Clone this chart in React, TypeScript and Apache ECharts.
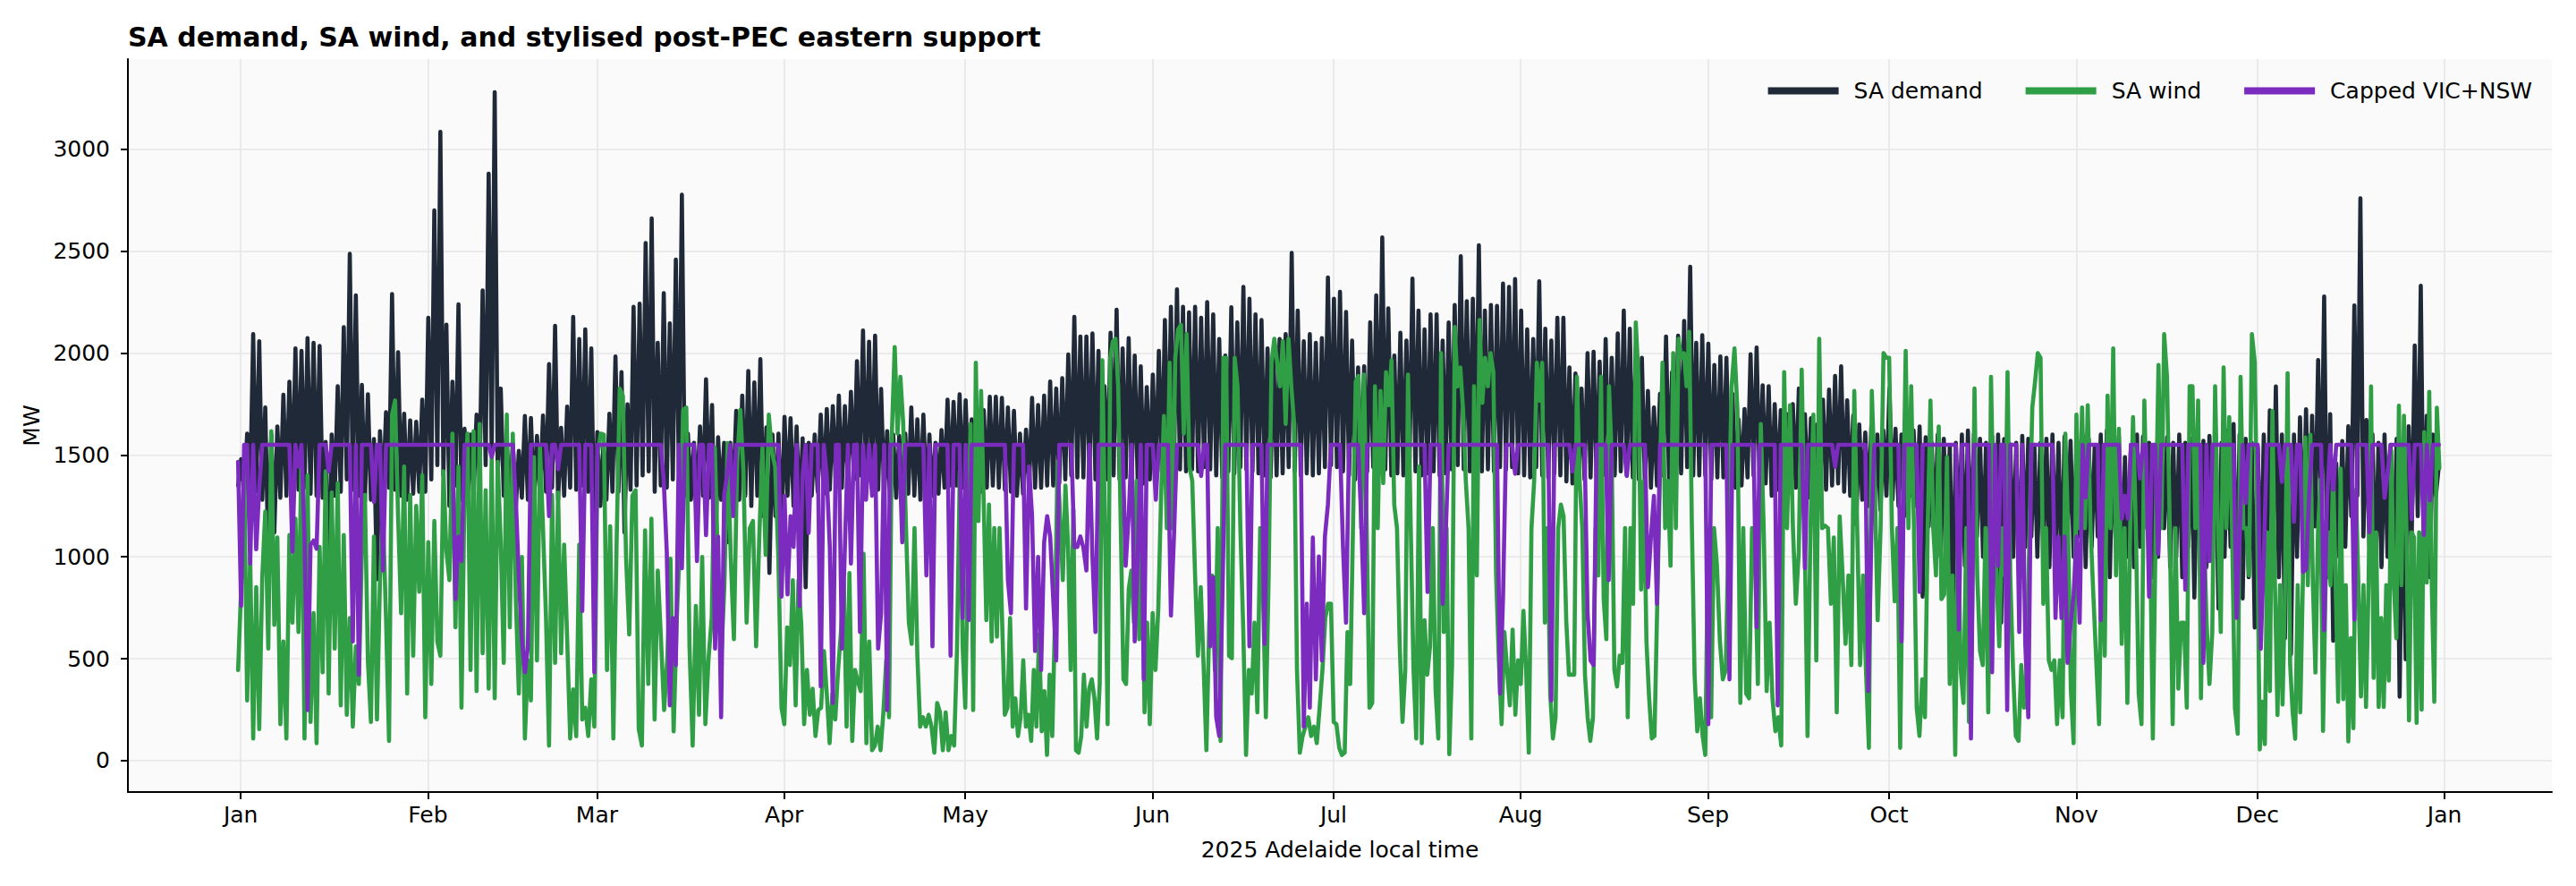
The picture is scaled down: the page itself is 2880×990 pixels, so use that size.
import React, { useRef, useEffect } from 'react'
import * as echarts from 'echarts'

// Day-of-year positions of the month ticks (2025), last one is 1 Jan 2026
const MONTH_TICKS = [0, 31, 59, 90, 120, 151, 181, 212, 243, 273, 304, 334, 365]
const MONTH_LABELS = ['Jan', 'Feb', 'Mar', 'Apr', 'May', 'Jun', 'Jul', 'Aug', 'Sep', 'Oct', 'Nov', 'Dec', 'Jan']
const MONTH_DAYS = [31, 28, 31, 30, 31, 30, 31, 31, 30, 31, 30, 31]
const MW_TICKS = [0, 500, 1000, 1500, 2000, 2500, 3000]

// SA demand, MW: per day a night low then an evening high
const demandJan = [1350,1480, 1300,1605, 1330,2093, 1320,2058, 1280,1733, 990,1600, 1120,1640, 1290,1796, 1300,1860, 1340,2023, 1330,2011, 1340,2074, 1310,2051, 1300,2035, 1290,1564, 800,1600, 1300,1837, 1320,2127, 1380,2487, 1330,2283, 1300,1844, 1270,1798, 1280,1578, 890,1617, 1300,1710, 1340,2290, 1330,2004, 1300,1703, 1280,1670, 1310,1663, 1320,1772]
const demandFeb = [1320,2174, 1380,2700, 1450,3086, 1400,2139, 1250,1860, 1350,2239, 1280,1629, 1260,1600, 1300,1698, 1380,2308, 1450,2881, 1500,3280, 1400,1826, 1300,1560, 1280,1560, 1240,1520, 1290,1691, 1280,1682, 1270,1594, 1300,1694, 1320,1946, 1340,2134, 1280,1633, 1300,1738, 1340,2178, 1330,2069, 1350,2116, 1320,2023]
const demandMar = [1070,1612, 1250,1540, 1280,1703, 1320,1984, 1320,1907, 1120,1749, 1330,2227, 1350,2243, 1400,2540, 1420,2661, 1320,2051, 1350,2294, 1340,2146, 1380,2459, 1420,2777, 1300,1605, 1280,1560, 1290,1640, 1300,1872, 1290,1745, 930,1587, 1280,1560, 1072,1560, 1300,1717, 1280,1791, 1300,1912, 1250,1856, 1300,1970, 1200,1636, 921,1600, 1200,1605]
const demandApr = [1118,1687, 1300,1680, 1250,1640, 1200,1582, 851,1560, 1300,1600, 1320,1698, 1310,1726, 1330,1740, 1350,1791, 1340,1740, 1360,1810, 1380,1960, 1400,2111, 1380,2056, 1390,2086, 1330,1824, 1300,1617, 1270,1600, 1290,1594, 1280,1605, 1310,1733, 1300,1675, 1280,1698, 1290,1600, 1300,1560, 1310,1622, 1340,1772, 1350,1761, 1350,1798]
const demandMay = [1340,1768, 1320,1675, 1300,1620, 1320,1720, 1340,1786, 1350,1786, 1340,1780, 1330,1733, 1320,1717, 1300,1605, 1310,1624, 1330,1780, 1340,1745, 1340,1791, 1350,1861, 1350,1826, 1360,1877, 1380,1993, 1400,2178, 1390,2081, 1390,2081, 1400,2097, 1380,2011, 1360,1837, 1380,2100, 1400,2213, 1380,2023, 1390,2074, 1380,1988, 1370,1935, 1360,1833]
const demandJun = [1380,1895, 1400,2011, 1420,2162, 1430,2227, 1440,2313, 1430,2227, 1420,2200, 1430,2227, 1420,2174, 1440,2250, 1430,2190, 1400,2069, 1390,1988, 1420,2225, 1410,2151, 1440,2325, 1430,2267, 1420,2190, 1410,2162, 1400,2023, 1390,1980, 1400,2069, 1410,2093, 1440,2492, 1420,2209, 1400,2058, 1410,2093, 1400,2051, 1410,2074, 1440,2371]
const demandJul = [1450,2267, 1440,2301, 1420,2202, 1400,2062, 1380,1930, 1390,1935, 1420,2151, 1440,2283, 1460,2568, 1430,2220, 1400,1988, 1410,2100, 1400,2062, 1440,2366, 1420,2209, 1400,2116, 1410,2190, 1420,2190, 1400,2062, 1410,2150, 1430,2236, 1450,2475, 1430,2255, 1420,2267, 1450,2529, 1420,2209, 1430,2236, 1420,2232, 1440,2341, 1430,2325, 1440,2364]
const demandAug = [1410,2209, 1400,2116, 1390,2069, 1440,2352, 1400,2120, 1390,2062, 1410,2174, 1400,2174, 1370,1930, 1360,1900, 1340,1826, 1380,2000, 1390,2007, 1380,1958, 1400,2069, 1380,1977, 1400,2097, 1420,2209, 1400,2120, 1390,2023, 1380,1977, 1360,1814, 1340,1733, 1350,1800, 1400,2081, 1380,1907, 1400,2086, 1410,2158, 1440,2424, 1400,2051, 1400,2088]
const demandSep = [1400,2046, 1380,1942, 1390,1984, 1390,1977, 1360,1800, 1340,1675, 1350,1726, 1390,1995, 1400,2028, 1360,1842, 1360,1837, 1300,1750, 1330,1720, 1300,1700, 1320,1750, 1340,1826, 1300,1700, 1290,1680, 1280,1650, 1320,1772, 1330,1821, 1350,1888, 1360,1935, 1320,1768, 1300,1694, 1160,1650, 1280,1610, 1250,1640, 1240,1600, 1230,1620]
const demandOct = [1300,1826, 1280,1629, 1250,1600, 1200,1560, 1300,1620, 1250,1640, 805,1587, 1150,1560, 1100,1600, 1000,1580, 1050,1550, 735,1560, 1100,1600, 956,1620, 1050,1605, 1100,1580, 1000,1560, 900,1594, 1050,1600, 677,1578, 1100,1552, 1000,1560, 886,1594, 1050,1580, 1100,1550, 1000,1560, 1050,1580, 950,1600, 1000,1560, 900,1590, 1100,1570]
const demandNov = [1000,1560, 1100,1600, 950,1580, 1050,1550, 1100,1600, 1000,1620, 900,1560, 1050,1590, 654,1490, 1000,1550, 950,1600, 1050,1590, 1234,1560, 900,1550, 1000,1580, 1141,1587, 950,1560, 1000,1600, 900,1560, 1050,1580, 800,1550, 1000,1570, 950,1594, 1100,1600, 747,1560, 1000,1620, 1050,1652, 805,1600, 796,1580, 900,1560]
const demandDec = [653,1537, 900,1600, 950,1719, 1000,1836, 900,1600, 601,1550, 523,1600, 1000,1685, 1100,1724, 1050,1693, 1150,1966, 1200,2278, 900,1700, 588,1459, 1000,1568, 1050,1641, 1200,2234, 1300,2760, 1100,1672, 1050,1602, 900,1560, 950,1600, 1000,1550, 900,1580, 314,1500, 497,1641, 1100,2037, 1200,2331, 1000,1693, 900,1600, 1300,1450]

// SA wind, MW (turning points, about two per day)
const windJan = [445,840,1443,295,1000,109,852,155,898,1223, 550,1617,666,1095,179,585,109,1107,677,1188, 631,1513,109,1400,190,724,86,1049,434,1420, 329,1316,550,1362,271,1107,225,700,167,561, 376,1025,1304,492,190,1100,202,886,1200,700, 97,1698,1768,1200,724,1443,329,1304,515,1250, 829,1400]
const windFeb = [213,1072,376,1176,585,515,1420,1030,886,1605, 654,1443,260,1327,1605,445,1617,341,1652,527, 1327,353,1490,306,1466,1072,480,1698,654,1605, 793,329,1000,109,492,295,1490,492,1536,1141, 700,74,1304,480,1316,527,1060,600,109,350, 120,1060,202,260,121,399]
const windMar = [167,1490,1605,1600,445,1150,109,1049,1826,1791, 1000,619,1300,1327,155,74,1130,376,1188,202, 933,600,248,500,991,144,700,1080,1721,1733, 561,74,759,225,1000,179,500,700,1536,933, 492,863,1559,1000,596,1455,1721,1420,677,1141, 1176,561,1100,1536,1010,1698,1513,1443,1000]
const windApr = [260,179,654,469,886,271,886,666,179,445, 225,353,121,248,260,538,329,86,329,202, 445,631,886,167,921,97,445,387,341,1015, 86,585,51,74,167,51,237,492,213,1605, 2030,1605,1884,1656,1141,677,573,1141,515,167, 213,167,225,167,39,283,237,51,237,51, 121,74,538,1420]
const windMay = [561,260,1025,1652,248,1953,1176,1814,1269,689, 1257,585,1141,608,1141,677,225,260,700,167, 306,121,213,492,167,225,97,445,167,619, 144,341,28,422,121,677,1466,1188,886,1350, 1049,445,1234,51,39,121,422,167,353,399, 306,109,376,1965,1141,179,1977,2058,2070,1837, 1141,399,376,840,933,677,1373,596,1141,237, 677]
const windJun = [179,724,445,747,1304,1691,1141,1953,1141,1977, 2116,2139,1605,2093,1443,1373,909,515,851,469, 51,677,909,445,1141,97,1977,1977,515,503, 1977,1837,1141,654,28,445,329,677,237,1141, 816,213,909,1953,2070,1953,1837,2058,1652,2070, 1837,1652,445,39,121,167,213,121,167,86, 260,445,700,770]
const windJul = [770,190,179,63,28,39,631,376,1141,1860, 1888,1141,1895,1141,260,283,1837,1141,1814,1362, 1907,1744,1965,1257,1141,561,190,445,1895,1141, 445,109,1443,86,689,422,561,1141,353,109, 2000,631,1141,32,469,2128,1837,1930,1721,1373, 1141,109,1837,909,2162,1756,1977,1837,2000,1907, 909,492,179,631,445,271,643,225]
const windAug = [492,376,735,445,39,1141,1373,1953,1767,1953, 677,1141,329,109,213,1141,1257,1199,689,422, 422,422,1884,1373,1141,422,213,97,213,1141, 909,1884,793,596,1837,1490,445,364,515,480, 1141,213,1141,770,2151,1884,840,1373,585,306, 109,121,747,1373,1953,1141,1373,956,2000,1141, 2070,1977,2000,1837,2104,1141,422,144,306,121]
const windSep = [28,1141,213,1141,956,585,399,445,1141,1837, 2023,1721,283,1141,329,306,1141,1025,376,1652, 1141,341,677,306,144,213,74,1907,1141,1744, 1141,770,1025,1919,1141,121,1141,1698,492,2070, 1141,1153,1141,770,1095,237,1199,909,573,909, 469,1814,1141,469,909,445,63,1814,1373,689, 1141,2000]
const windOct = [1977,1977,1141,782,1141,63,1141,2011,1141,1837, 1141,260,121,399,213,1141,1767,1141,909,1640, 793,816,1490,376,909,28,1141,445,283,1141, 190,561,1826,909,538,469,1141,237,1884,1141, 909,561,1141,909,1907,909,445,121,97,469, 260,445,1141,1733,1860,2000,1977,770,1141,492, 445,492,179,492,213,1605,1141,353]
const windNov = [86,1698,1141,1733,1141,1744,1141,805,492,179, 1141,515,1791,1141,2023,909,1629,573,1141,283, 1141,1686,1141,329,179,1767,1141,1141,109,1141, 1942,1141,2093,1884,1141,179,1141,353,677,677, 260,1837,1837,1141,1767,306,1141,677,376,631, 1837,1141,631,1930,1141,1686,1141,260,132,1884, 1141,1141,909,2093]
const windDec = [1957,1121,55,289,81,1121,341,1716,861,224, 861,276,861,1901,471,237,107,861,237,861, 1586,861,1599,861,432,1121,1381,146,861,1121, 861,1433,861,289,1433,302,861,94,601,159, 1329,861,315,861,263,861,1836,406,1121,263, 700,263,861,393,1521,861,601,1742,861,1693, 1121,198,1121,1095,185,1121,250,1612,874,1810, 861,289,1732,1435]

// Capped VIC+NSW support, MW: two readings per day, ceiling 1550
const cappedJan = [1466,760, 1550,1550, 967,1550, 1037,1340, 1550,1550, 1550,1550, 1550,1550, 1550,1550, 1550,1550, 1025,1550, 1443,1550, 1100,248, 1060,1080, 1040,1550, 1550,1550, 1420,1550, 1550,1550, 1550,1550, 1550,1550, 585,1550, 422,1550, 1550,1550, 1550,1270, 1550,1550, 933,1550, 1550,1550, 1550,1550, 1550,1550, 1550,1550, 1550,1550, 1550,1550]
const cappedFeb = [1550,1550, 1550,1550, 1550,1550, 1550,1550, 1550,1550, 793,1100, 979,1550, 1550,1550, 1550,1550, 1550,1550, 1550,1550, 1490,1550, 1550,1550, 1550,1550, 1550,1550, 1280,900, 600,434, 561,1550, 1550,1550, 1550,1550, 1550,1200, 1550,1550, 1430,1550, 1550,1550, 1550,1550, 1550,1550, 735,1550, 1550,1550]
const cappedMar = [434,1550, 1550,1550, 1550,1550, 1550,1550, 1550,1550, 1550,1550, 1550,1550, 1550,1550, 1550,1550, 1550,1550, 1550,1550, 1550,1373, 1025,271, 700,469, 1550,944, 1550,1550, 1550,1550, 979,1550, 1550,1107, 1550,1550, 550,1100, 213,1300, 1408,1550, 1200,1550, 1550,1550, 1550,1550, 1550,1550, 1550,1550, 1550,1550, 1550,1550, 1550,1550]
const cappedApr = [805,1300, 816,1200, 1049,1550, 759,1400, 1550,1118, 1550,1550, 1550,364, 1550,1397, 1049,283, 1550,1550, 550,1049, 1550,967, 1550,1550, 631,1550, 1280,1550, 1300,1550, 550,724, 1550,248, 1550,1550, 1550,1550, 1072,1550, 1550,1550, 1550,1550, 1550,1550, 909,1550, 561,1550, 1550,1550, 1550,1550, 515,1550, 1550,1550]
const cappedMay = [700,1550, 689,1550, 1550,1550, 1550,1550, 1550,1550, 1550,1550, 1550,1550, 1550,886, 724,1550, 1550,1550, 1550,747, 1443,1200, 538,1000, 445,1072, 1200,1100, 793,492, 1550,1550, 1550,1550, 1550,1049, 1049,1100, 1045,933, 1550,1000, 631,1550, 1550,1550, 1550,1550, 1550,1550, 1550,1550, 956,1200, 1550,585, 1000,1550, 399,1550]
const cappedJun = [1550,1550, 1280,1550, 1550,1550, 1550,712, 1100,1550, 1550,1550, 1550,1550, 1550,1550, 1550,1397, 1550,1550, 561,900, 213,121, 770,1550, 1550,1550, 1550,1550, 1550,1550, 1550,561, 1550,1550, 1550,1550, 573,1550, 1550,1550, 1550,1550, 1550,1550, 1550,1550, 1550,1550, 1550,167, 770,260, 1095,399, 1002,492, 1100,1257]
const cappedJul = [1550,1550, 1550,1550, 1049,677, 1550,1550, 1550,1550, 1200,724, 1550,1550, 1550,1550, 1550,1550, 1550,1550, 1550,1550, 1550,1550, 1550,1550, 1550,1550, 1550,1550, 1550,1550, 828,1550, 1550,1550, 1550,770, 1100,1550, 1550,1550, 1550,1550, 1550,1550, 1550,1550, 1550,1550, 1550,1550, 1550,1550, 1550,1550, 329,800, 1550,1550, 1550,1408]
const cappedAug = [1550,1550, 1550,1550, 1550,1550, 1550,1550, 1550,1550, 1550,295, 1550,1550, 1550,1550, 1550,1550, 1420,1550, 1550,1550, 1550,724, 492,469, 1550,1550, 1550,1550, 886,1550, 1550,1550, 1550,1550, 1397,1550, 1550,1550, 1550,1550, 1550,851, 1100,1300, 770,1550, 1550,1550, 1550,1550, 1550,1550, 1550,1550, 1550,1550, 1550,1550, 1550,1550]
const cappedSep = [1550,179, 1550,1550, 1550,1550, 1550,1550, 399,1550, 1550,1550, 1550,1550, 1550,1550, 1550,654, 1550,1550, 1550,1550, 1550,1550, 271,1550, 1550,1550, 1550,1550, 1550,1550, 1550,944, 1550,1550, 1550,1550, 1550,1550, 1550,1550, 1550,1443, 1550,1550, 1550,1550, 1550,1550, 1550,1550, 1550,1550, 341,1107, 1550,1550, 1550,1550]
const cappedOct = [1550,1550, 1550,1550, 1550,585, 1550,1550, 1550,1550, 1550,828, 1550,1550, 1550,1550, 1550,1550, 1550,1550, 1550,1550, 1550,1550, 643,1550, 1550,1550, 109,1550, 1550,1550, 1550,1550, 1550,434, 1550,956, 1550,1550, 248,1550, 1550,1550, 631,1550, 573,213, 1550,1550, 1550,1550, 1550,1550, 1550,1550, 700,1100, 700,1100, 480,666]
const cappedNov = [816,1100, 677,1550, 1292,1550, 1550,1550, 1550,689, 1550,1550, 1550,1550, 1550,1550, 1188,1300, 1188,1550, 1550,1550, 1385,1550, 1550,805, 1550,1550, 1014,1550, 1550,1550, 1550,1550, 1550,1550, 1550,839, 1550,1550, 1550,1550, 1550,480, 1550,979, 1550,1550, 1550,1550, 1550,1550, 1550,1550, 700,1100, 1550,1264, 1550,1550]
const cappedDec = [1550,1550, 549,1000, 1550,1550, 1550,1550, 1550,1368, 1550,1550, 1550,1173, 1550,1550, 926,939, 1300,1550, 1550,1550, 1550,640, 1300,1550, 1329,1550, 1550,1550, 1550,1550, 1550,692, 1550,1550, 1550,1550, 1121,1550, 1550,1550, 1550,1290, 1407,1550, 1550,1550, 1550,1550, 1550,1550, 1186,1550, 1550,1550, 1108,1550, 1277,1550, 1550,1550]

const demandByMonth = [demandJan, demandFeb, demandMar, demandApr, demandMay, demandJun, demandJul, demandAug, demandSep, demandOct, demandNov, demandDec]
const windByMonth = [windJan, windFeb, windMar, windApr, windMay, windJun, windJul, windAug, windSep, windOct, windNov, windDec]
const cappedByMonth = [cappedJan, cappedFeb, cappedMar, cappedApr, cappedMay, cappedJun, cappedJul, cappedAug, cappedSep, cappedOct, cappedNov, cappedDec]

// local midnight sits a little before the month gridlines
const START_OFFSET = -0.44

// lay each month's readings evenly across that month, x in days since 1 Jan
const toPoints = (months: number[][]) => {
  const pts: [number, number][] = []
  let start = 0
  months.forEach((vals, m) => {
    const step = MONTH_DAYS[m] / vals.length
    vals.forEach((v, i) => pts.push([start + i * step + START_OFFSET, v]))
    start += MONTH_DAYS[m]
  })
  return pts
}

const FONT = 'DejaVu Sans'

const App: React.FC = () => {
  const chartRef = useRef<HTMLDivElement>(null)

  useEffect(() => {
    if (!chartRef.current) return
    const chart = echarts.init(chartRef.current, undefined, { renderer: 'svg' })

    const lineSeries = (name: string, color: string, data: [number, number][], z: number) => ({
      name,
      type: 'line',
      data,
      z,
      showSymbol: false,
      symbol: 'none',
      silent: true,
      lineStyle: { color, width: 4.6, join: 'round', cap: 'round' },
      itemStyle: { color },
    })

    const option = {
      animation: false,
      backgroundColor: '#ffffff',
      textStyle: { fontFamily: FONT },
      title: {
        text: 'SA demand, SA wind, and stylised post-PEC eastern support',
        left: 138,
        top: 21,
        textStyle: { fontFamily: FONT, fontSize: 30, fontWeight: 'bold', color: '#000' },
      },
      legend: {
        data: ['SA demand', 'SA wind', 'Capped VIC+NSW'],
        right: 44,
        top: 84,
        icon: 'rect',
        itemWidth: 79,
        itemHeight: 8,
        itemGap: 48,
        textStyle: { fontFamily: FONT, fontSize: 25, color: '#000', padding: [0, 0, 0, 12] },
      },
      grid: {
        left: 143,
        right: 27,
        top: 66,
        bottom: 105,
        show: true,
        backgroundColor: '#fafafa',
        borderWidth: 0,
      },
      xAxis: {
        type: 'value',
        min: -18.69,
        max: 382.77,
        name: '2025 Adelaide local time',
        nameLocation: 'middle',
        nameGap: 52,
        nameTextStyle: { fontFamily: FONT, fontSize: 25, color: '#000' },
        axisLine: { onZero: false, lineStyle: { color: '#000', width: 2 } },
        axisTick: { customValues: MONTH_TICKS, length: 8, lineStyle: { color: '#000', width: 2 } },
        axisLabel: {
          customValues: MONTH_TICKS,
          fontFamily: FONT,
          fontSize: 25,
          color: '#000',
          margin: 13,
          formatter: (v: number) => MONTH_LABELS[MONTH_TICKS.indexOf(Math.round(v))] ?? '',
        },
        splitLine: { show: true, lineStyle: { color: '#e6e6e6', width: 1.6 } },
      },
      yAxis: {
        type: 'value',
        min: -154,
        max: 3443,
        name: 'MW',
        nameLocation: 'middle',
        nameGap: 95,
        nameTextStyle: { fontFamily: FONT, fontSize: 25, color: '#000' },
        axisLine: { show: true, onZero: false, lineStyle: { color: '#000', width: 2 } },
        axisTick: { show: true, customValues: MW_TICKS, length: 8, lineStyle: { color: '#000', width: 2 } },
        axisLabel: {
          customValues: MW_TICKS,
          fontFamily: FONT,
          fontSize: 25,
          color: '#000',
          margin: 20,
          formatter: (v: number) => String(v),
        },
        splitLine: { show: true, lineStyle: { color: '#e6e6e6', width: 1.6 } },
      },
      series: [
        lineSeries('SA demand', '#1f2937', toPoints(demandByMonth), 2),
        lineSeries('SA wind', '#2f9e44', toPoints(windByMonth), 3),
        lineSeries('Capped VIC+NSW', '#7b2cbf', toPoints(cappedByMonth), 4),
      ],
    }

    chart.setOption(option)

    return () => {
      chart.dispose()
    }
  }, [])

  return (
    <div
      ref={chartRef}
      style={{ position: 'absolute', left: 0, top: 0, width: '2880px', height: '990px' }}
    />
  )
}

export default App
